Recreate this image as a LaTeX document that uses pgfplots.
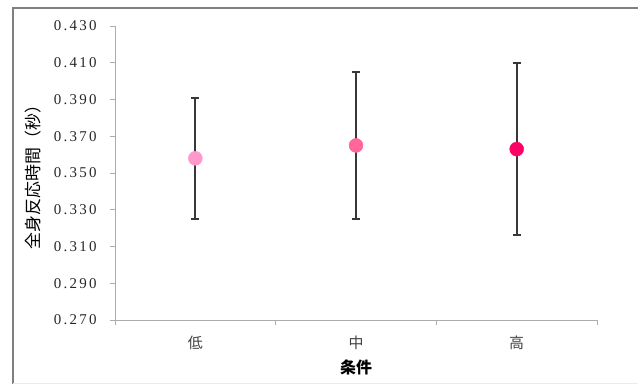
\documentclass[border=0pt]{standalone}
\usepackage{pgfplots}
\pgfplotsset{compat=1.18}
\usepackage{fontspec}
\setmainfont{Liberation Serif}
\newfontfamily\cjk{Noto Sans CJK JP}
\newfontfamily\tickfont[LetterSpace=15]{Liberation Serif}
\definecolor{c1}{HTML}{FF99CC}
\definecolor{c2}{HTML}{FF6699}
\definecolor{c3}{HTML}{FF0066}
\definecolor{axgray}{HTML}{ACACAC}
\begin{document}
\begin{tikzpicture}[x=1bp,y=1bp]
\useasboundingbox (0,0) rectangle (643,385);
\begin{axis}[
  at={(115bp,65bp)}, anchor=south west, scale only axis,
  width=482bp, height=294bp,
  xmin=-0.5, xmax=2.5, ymin=0.27, ymax=0.43,
  axis x line*=bottom, axis y line*=left,
  axis line style={draw=axgray, line width=0.9bp},
  xtick={0,1,2}, xticklabels={低,中,高},
  major x tick style={draw=none},
  minor xtick={-0.5,0.5,1.5,2.5},
  ytick={0.27,0.29,0.31,0.33,0.35,0.37,0.39,0.41,0.43},
  tick align=outside, major tick length=5bp, minor tick length=5bp,
  tick style={draw=axgray, line width=0.9bp},
  minor tick style={draw=axgray, line width=0.9bp},
  yticklabel style={/pgf/number format/fixed, /pgf/number format/precision=3,
    /pgf/number format/fixed zerofill, /pgf/number format/assume math mode=true,
    font=\tickfont\fontsize{15}{17}\selectfont, text=black!85, xshift=-10bp},
  xticklabel style={font=\cjk\fontsize{15}{18}\selectfont, text=black!75, yshift=-7bp},
  xlabel={条件},
  xlabel style={font=\cjk\bfseries\fontsize{16}{18}\selectfont, at={(axis description cs:0.5,-0.163)}, anchor=center},
  ylabel={全身反応時間（秒）},
  ylabel style={font=\cjk\fontsize{17}{19}\selectfont, at={(axis description cs:-0.170,0.5)}, anchor=center},
  clip=false,
]
\addplot[only marks, mark=*, mark size=7bp, color=c1, mark options={draw=c1, fill=c1},
  error bars/.cd, y dir=both, y explicit,
  error bar style={black!78, line width=2bp},
  error mark options={rotate=90, mark size=4bp, line width=2bp, black!78}]
  coordinates {(0,0.358) +- (0,0.033)};
\addplot[only marks, mark=*, mark size=7bp, color=c2, mark options={draw=c2, fill=c2},
  error bars/.cd, y dir=both, y explicit,
  error bar style={black!78, line width=2bp},
  error mark options={rotate=90, mark size=4bp, line width=2bp, black!78}]
  coordinates {(1,0.365) +- (0,0.040)};
\addplot[only marks, mark=*, mark size=7bp, color=c3, mark options={draw=c3, fill=c3},
  error bars/.cd, y dir=both, y explicit,
  error bar style={black!78, line width=2bp},
  error mark options={rotate=90, mark size=4bp, line width=2bp, black!78}]
  coordinates {(2,0.363) +- (0,0.047)};
\end{axis}
\draw[gray, line width=1.5bp] (13,1) -- (13,377) -- (638,377);
\draw[black!8, line width=0.8bp] (13,2) -- (638,2);
\end{tikzpicture}
\end{document}
